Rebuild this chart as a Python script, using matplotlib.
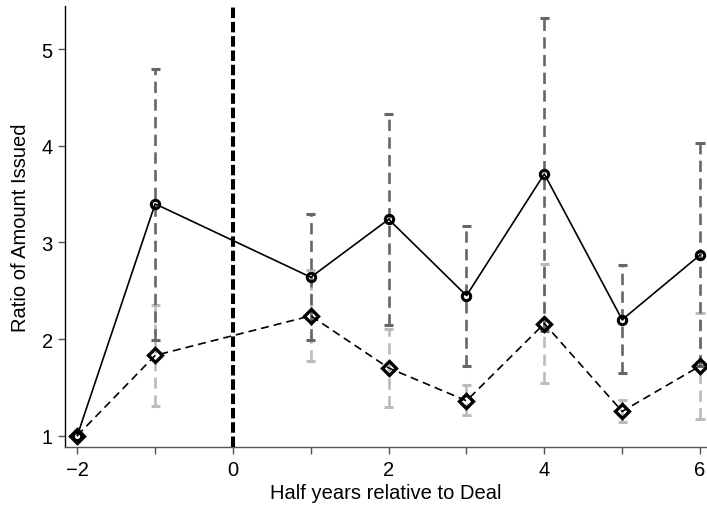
import matplotlib
matplotlib.use("Agg")
import matplotlib.pyplot as plt

# half years relative to deal
periods = [-2, -1, 1, 2, 3, 4, 5, 6]

# series 1: circles, solid line, dark grey CI
ratio_a = [1.0, 3.40, 2.64, 3.24, 2.45, 3.71, 2.20, 2.87]
ci_a_lo = [1.0, 1.99, 1.99, 2.15, 1.72, 2.08, 1.65, 1.72]
ci_a_hi = [1.0, 4.80, 3.30, 4.33, 3.17, 5.33, 2.77, 4.03]

# series 2: diamonds, dashed line, light grey CI
ratio_b = [1.0, 1.83, 2.24, 1.70, 1.36, 2.16, 1.25, 1.72]
ci_b_lo = [1.0, 1.31, 1.77, 1.30, 1.21, 1.54, 1.14, 1.17]
ci_b_hi = [1.0, 2.35, 2.72, 2.10, 1.52, 2.78, 1.37, 2.27]

DARK, LIGHT, AXC = "#666666", "#bbbbbb", "#555555"
plt.rcParams.update({"font.family": "Liberation Sans", "font.size": 14.5})

fig = plt.figure(figsize=(7.07, 5.06), dpi=100)
ax = fig.add_axes([0.0924, 0.114, 0.9076, 0.873])

# CI bars for every period except the base period
pa = periods[1:]
cap = 0.058
for lo, hi, col in ((ci_b_lo, ci_b_hi, LIGHT), (ci_a_lo, ci_a_hi, DARK)):
    ax.vlines(pa, lo[1:], hi[1:], colors=col, linestyles=(0, (4.3, 2.4)), linewidth=1.9, zorder=2)
    ax.hlines(lo[1:], [p - cap for p in pa], [p + cap for p in pa], colors=col, linewidth=2.2, zorder=2)
    ax.hlines(hi[1:], [p - cap for p in pa], [p + cap for p in pa], colors=col, linewidth=2.2, zorder=2)

ax.plot(periods, ratio_a, color="black", linewidth=1.2, marker="o", markersize=6,
        markerfacecolor="none", markeredgewidth=2.2, markeredgecolor="black", zorder=4)
ax.plot(periods, ratio_b, color="black", linewidth=1.2, linestyle=(0, (4.8, 3)), marker="D",
        markersize=7.5, markerfacecolor="none", markeredgewidth=2.4, markeredgecolor="black", zorder=4)

ax.axvline(0, color="black", linewidth=2.9, linestyle=(0, (2.6, 0.95)), zorder=3)

ax.set_xlim(-2.154, 6.09)
ax.set_ylim(0.878, 5.454)
ax.set_xticks(range(-2, 7))
ax.set_xticklabels(["\u22122" if t == -2 else (str(t) if t % 2 == 0 else "") for t in range(-2, 7)])
ax.set_yticks([1, 2, 3, 4, 5])
ax.set_xlabel("Half years relative to Deal", labelpad=3)
ax.set_ylabel("Ratio of Amount Issued", labelpad=8)

for s in ("top", "right"):
    ax.spines[s].set_visible(False)
ax.spines["left"].set_color("black")
ax.spines["bottom"].set_color(AXC)
ax.spines["left"].set_linewidth(1.0)
ax.spines["bottom"].set_linewidth(1.0)
ax.tick_params(direction="out", length=5, width=1, color=AXC, labelcolor="black", pad=4)

fig.savefig("out.png", dpi=100)
